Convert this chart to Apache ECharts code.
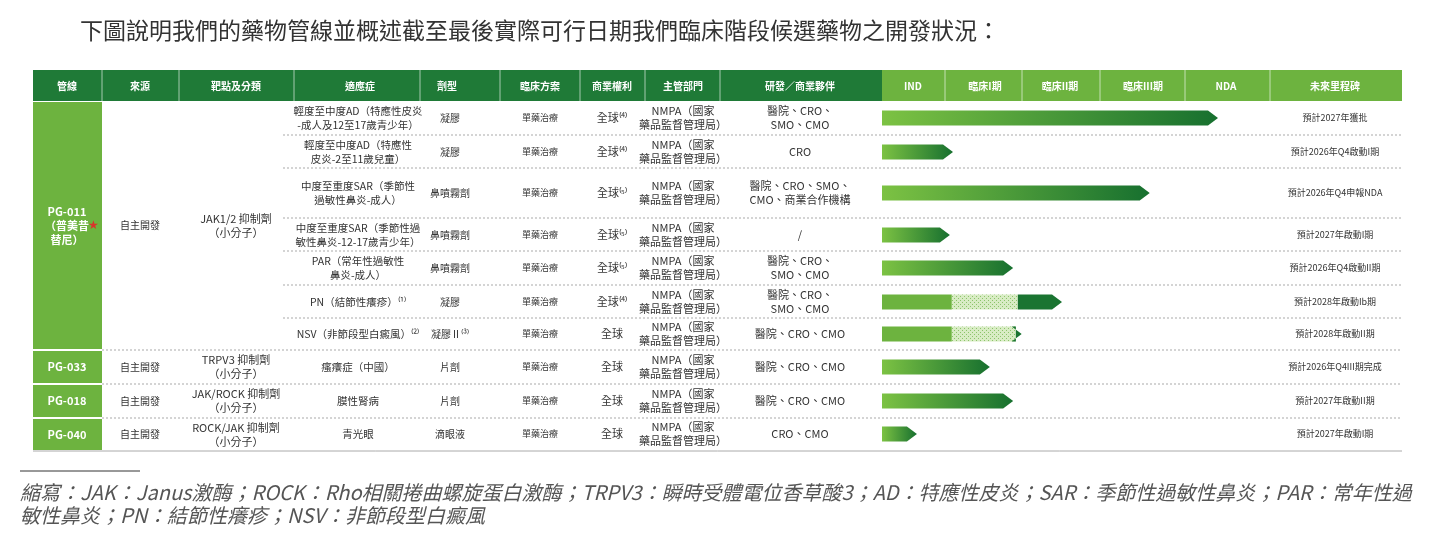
<!DOCTYPE html><html><head><meta charset="utf-8"><script src="https://cdn.jsdelivr.net/npm/echarts@6/dist/echarts.min.js"></script>
<style>html,body{margin:0;background:#fff}#c{width:1440px;height:540px}</style></head><body><div id="c"></div><script>
const headers=['管線','來源','靶點及分類','適應症','劑型','臨床方案','商業權利','主管部門','研發／商業夥伴','IND','臨床I期','臨床II期','臨床III期','NDA','未來里程碑'];
const indications=['輕度至中度AD（特應性皮炎\n-成人及12至17歲青少年）','輕度至中度AD（特應性\n皮炎-2至11歲兒童）','中度至重度SAR（季節性\n過敏性鼻炎-成人）','中度至重度SAR（季節性過\n敏性鼻炎-12-17歲青少年）','PAR（常年性過敏性\n鼻炎-成人）','PN（結節性癢疹）⁽¹⁾','NSV（非節段型白癜風）⁽²⁾','瘙癢症（中國）','膜性腎病','青光眼'];
const forms=['凝膠','凝膠','鼻噴霧劑','鼻噴霧劑','鼻噴霧劑','凝膠','凝膠Ⅱ⁽³⁾','片劑','片劑','滴眼液'];
const regimen=['單藥治療','單藥治療','單藥治療','單藥治療','單藥治療','單藥治療','單藥治療','單藥治療','單藥治療','單藥治療'];
const rights=['全球⁽⁴⁾','全球⁽⁴⁾','全球⁽⁵⁾','全球⁽⁵⁾','全球⁽⁵⁾','全球⁽⁴⁾','全球','全球','全球','全球'];
const partners=['醫院、CRO、\nSMO、CMO','CRO','醫院、CRO、SMO、\nCMO、商業合作機構','/','醫院、CRO、\nSMO、CMO','醫院、CRO、\nSMO、CMO','醫院、CRO、CMO','醫院、CRO、CMO','醫院、CRO、CMO','CRO、CMO'];
const milestones=['預計2027年獲批','預計2026年Q4啟動I期','預計2026年Q4申報NDA','預計2027年啟動I期','預計2026年Q4啟動II期','預計2028年啟動Ib期','預計2028年啟動II期','預計2026年Q4III期完成','預計2027年啟動II期','預計2027年啟動I期'];
const rowY=[118,152,193,235,268,302,334,367,401,434];
const progress=[86.6,18.3,69,17.5,33.8,46.4,36,27.8,33.8,9];
const solidPart=[null,null,null,null,null,18,18,null,null,null];
const dottedPart=[null,null,null,null,null,35,34.5,null,null,null];
const programs=[{name:'PG-011\n（普美昔\n替尼）',y0:101,y1:350,src:'自主開發',target:'JAK1/2 抑制劑\n（小分子）'},{name:'PG-033',y0:350,y1:384,src:'自主開發',target:'TRPV3 抑制劑\n（小分子）'},{name:'PG-018',y0:384,y1:418,src:'自主開發',target:'JAK/ROCK 抑制劑\n（小分子）'},{name:'PG-040',y0:418,y1:451,src:'自主開發',target:'ROCK/JAK 抑制劑\n（小分子）'}];
const subSep=[135,168,218,251,285,318];

const F='"Noto Sans CJK TC","Noto Sans CJK SC",serif';
const hx=[67,140,236,360,447,540,612,683,800,913,985,1060,1143,1226,1335];
const g=[];
g.push({type:'text',left:80,top:19,style:{text:'下圖說明我們的藥物管線並概述截至最後實際可行日期我們臨床階段候選藥物之開發狀況：',font:'23px '+F,fill:'#333'}});
g.push({type:'rect',shape:{x:33,y:70,width:849,height:31},style:{fill:'#1f7a37'}});
g.push({type:'rect',shape:{x:882,y:70,width:520,height:31},style:{fill:'#6db33f'}});
[102,179,294,420,500,580,645,720,945,1022,1100,1185,1270].forEach(x=>g.push({type:'line',shape:{x1:x,y1:70,x2:x,y2:101},style:{stroke:'rgba(255,255,255,0.6)',lineWidth:1}}));
headers.forEach((h,i)=>g.push({type:'text',x:hx[i],y:86,style:{text:h,font:'bold 10px '+F,fill:'#fff',align:'center',verticalAlign:'middle'}}));
programs.forEach(p=>{
 g.push({type:'rect',shape:{x:33,y:p.y0+1,width:69,height:p.y1-p.y0-2},style:{fill:'#6db33f'}});
 g.push({type:'text',x:67,y:(p.y0+p.y1)/2,style:{text:p.name,font:'bold 11px '+F,fill:'#fff',align:'center',verticalAlign:'middle',lineHeight:14}});
 g.push({type:'text',x:140,y:(p.y0+p.y1)/2,style:{text:p.src,font:'10px '+F,fill:'#333',align:'center',verticalAlign:'middle'}});
 g.push({type:'text',x:236,y:(p.y0+p.y1)/2,style:{text:p.target,font:'11px '+F,fill:'#333',align:'center',verticalAlign:'middle',lineHeight:14}});
 if(p.y1<451) g.push({type:'line',shape:{x1:102,y1:p.y1,x2:1402,y2:p.y1},style:{stroke:'#aaa',lineWidth:1,lineDash:[2,2]}});
});
g.push({type:'text',x:93,y:226,style:{text:'★',font:'12px sans-serif',fill:'#d9342b',align:'center',verticalAlign:'middle'}});
g.push({type:'line',shape:{x1:33,y1:451,x2:1402,y2:451},style:{stroke:'#aaa',lineWidth:1}});
subSep.forEach(y=>g.push({type:'line',shape:{x1:283,y1:y,x2:1402,y2:y},style:{stroke:'#aaa',lineWidth:1,lineDash:[2,2]}}));
rowY.forEach((y,i)=>{
 const t=(x,s,fs)=>g.push({type:'text',x:x,y:y,style:{text:s,font:(fs||11)+'px '+F,fill:'#333',align:'center',verticalAlign:'middle',lineHeight:14}});
 t(358,indications[i],10.5);t(450,forms[i],10);t(540,regimen[i],9);t(612,rights[i]);t(683,'NMPA（國家\n藥品監督管理局）');t(800,partners[i]);t(1335,milestones[i],9);
});
g.push({type:'line',shape:{x1:20,y1:471,x2:140,y2:471},style:{stroke:'#333',lineWidth:1}});
g.push({type:'text',left:20,top:481,style:{text:'縮寫：JAK：Janus激酶；ROCK：Rho相關捲曲螺旋蛋白激酶；TRPV3：瞬時受體電位香草酸3；AD：特應性皮炎；SAR：季節性過敏性鼻炎；PAR：常年性過\n敏性鼻炎；PN：結節性癢疹；NSV：非節段型白癜風',font:'italic 20px '+F,fill:'#555',lineHeight:23}});

const grad={type:'linear',x:0,y:0,x2:1,y2:0,colorStops:[{offset:0,color:'#7cc243'},{offset:1,color:'#17702f'}]};
const data=progress.map((v,i)=>[v,rowY[i],solidPart[i],dottedPart[i]]);
const chart=echarts.init(document.getElementById('c'));
chart.setOption({animation:false,graphic:g,
 grid:{left:882,top:70,width:388,height:380},
 xAxis:{type:'value',min:0,max:100,show:false},
 yAxis:{type:'value',min:70,max:450,inverse:true,show:false},
 series:[{type:'custom',data:data,renderItem:(p,api)=>{
  const x0=api.coord([0,api.value(1)]);const x1=api.coord([api.value(0),api.value(1)]);
  const h=15,y=x0[1]-h/2,a=10;const ch=[];
  const s=api.value(2);
  if(s!=null&&!isNaN(s)){
   const xs=api.coord([s,0])[0],xd=api.coord([api.value(3),0])[0];
   ch.push({type:'rect',shape:{x:x0[0],y:y,width:xs-x0[0],height:h},style:{fill:'#6db33f'}});
   ch.push({type:'rect',shape:{x:xs,y:y,width:xd-xs,height:h},style:{fill:{image:(()=>{const c=document.createElement('canvas');c.width=4;c.height=4;const x=c.getContext('2d');x.fillStyle='#d8ecc4';x.fillRect(0,0,4,4);x.fillStyle='#8cc46a';x.fillRect(0,0,1,1);x.fillRect(2,2,1,1);return c;})(),repeat:'repeat'}}});
   ch.push({type:'polygon',shape:{points:[[xd,y],[x1[0]-a,y],[x1[0],y+h/2],[x1[0]-a,y+h],[xd,y+h]]},style:{fill:'#1a7431'}});
  } else {
   ch.push({type:'polygon',shape:{points:[[x0[0],y],[x1[0]-a,y],[x1[0],y+h/2],[x1[0]-a,y+h],[x0[0],y+h]]},style:{fill:{type:'linear',x:0,y:0,x2:1,y2:0,colorStops:grad.colorStops}}});
  }
  return {type:'group',children:ch};
 }}]});
</script></body></html>
